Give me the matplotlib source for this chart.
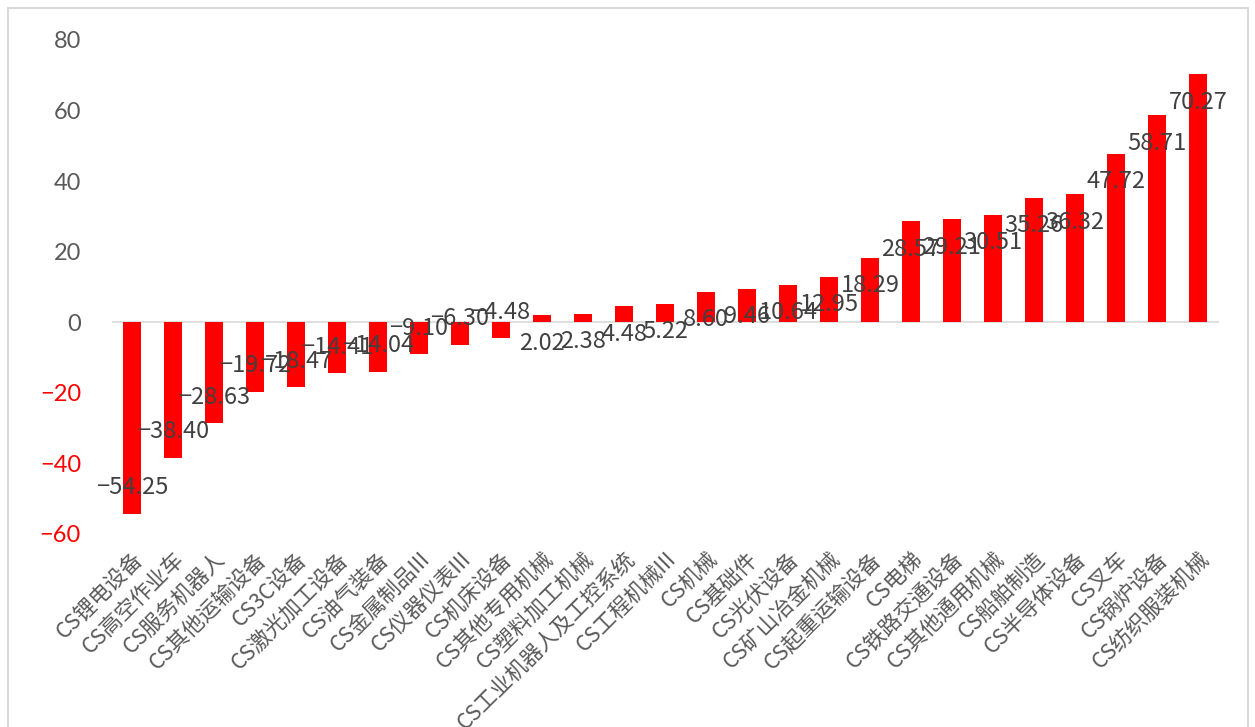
import matplotlib.pyplot as plt
from matplotlib.patches import Rectangle

categories = ['CS锂电设备', 'CS高空作业车', 'CS服务机器人', 'CS其他运输设备', 'CS3C设备',
              'CS激光加工设备', 'CS油气装备', 'CS金属制品III', 'CS仪器仪表III', 'CS机床设备',
              'CS其他专用机械', 'CS塑料加工机械', 'CS工业机器人及工控系统', 'CS工程机械III',
              'CS机械', 'CS基础件', 'CS光伏设备', 'CS矿山冶金机械', 'CS起重运输设备', 'CS电梯',
              'CS铁路交通设备', 'CS其他通用机械', 'CS船舶制造', 'CS半导体设备', 'CS叉车',
              'CS锅炉设备', 'CS纺织服装机械']
values = [-54.25, -38.40, -28.63, -19.72, -18.47, -14.41, -14.04, -9.10, -6.30, -4.48,
          2.02, 2.38, 4.48, 5.22, 8.60, 9.46, 10.64, 12.95, 18.29, 28.57,
          29.21, 30.51, 35.26, 36.32, 47.72, 58.71, 70.27]
yticks = [-60, -40, -20, 0, 20, 40, 60, 80]

plt.rcParams['font.family'] = ['Noto Sans CJK SC', 'DejaVu Sans']

fig = plt.figure(figsize=(12.55, 7.27), dpi=100)
fig.patches.append(Rectangle((8 / 1255, -0.01), 1240 / 1255, 1.0 - 8 / 727 + 0.01,
                             transform=fig.transFigure, fill=False,
                             edgecolor='#d9d9d9', linewidth=1.5))
ax = fig.add_axes([111.5 / 1255, 1 - 534 / 727, 1107 / 1255, 494 / 727])

x = range(len(categories))
ax.bar(x, values, width=0.44, color='#ff0000', zorder=2)
ax.axhline(0, color='#d9d9d9', linewidth=1.2, zorder=1)

for i, v in enumerate(values):
    off = -28 if v > 0 else 26
    ax.annotate(f'{v:.2f}'.replace('-', '\u2212'), (i, v), xytext=(0, off),
                textcoords='offset pixels', ha='center', va='center',
                fontsize=17, color='#404040', zorder=3)

ax.set_xlim(-0.5, len(categories) - 0.5)
ax.set_ylim(-60, 80)
ax.set_yticks(yticks)
ax.set_yticklabels([str(t).replace('-', '\u2212') for t in yticks],
                   family=['Lato', 'DejaVu Sans'], fontsize=17)
for lab, t in zip(ax.get_yticklabels(), yticks):
    lab.set_color('#ff0000' if t < 0 else '#595959')

ax.set_xticks(list(x))
ax.set_xticklabels(categories, rotation=45, ha='right', rotation_mode='anchor',
                   fontsize=15.5, color='#595959')
ax.tick_params(axis='both', length=0)
ax.tick_params(axis='y', pad=22)
ax.tick_params(axis='x', pad=10)
for s in ax.spines.values():
    s.set_visible(False)

fig.savefig('out.png', dpi=100)
